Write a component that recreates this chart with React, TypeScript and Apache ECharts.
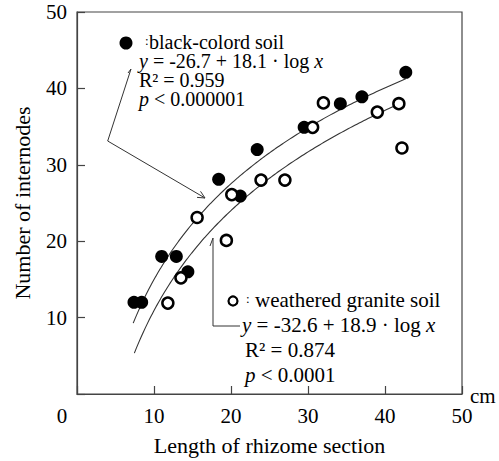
import React, { useEffect, useRef } from "react";
import * as echarts from "echarts";

// Observed data (cm, number of internodes)
const xBlack = [7.4, 8.4, 11.0, 12.9, 14.4, 18.4, 21.2, 23.4, 29.5, 34.2, 37.0, 42.7];
const yBlack = [12, 12, 18, 18, 16, 28.1, 25.9, 32, 34.9, 38, 38.9, 42.1];
const xOpen = [11.8, 13.5, 15.6, 19.4, 20.1, 23.9, 27.0, 30.6, 32.0, 39.0, 41.8, 42.2];
const yOpen = [11.9, 15.2, 23.1, 20.1, 26.1, 28.0, 28.0, 34.9, 38.1, 36.9, 38.0, 32.2];

// Regression equations printed on the chart: y = a + b * ln x
const fitBlack = { a: -26.7, b: 18.1, from: 7.3, to: 42.7 };
const fitOpen = { a: -32.6, b: 18.9, from: 7.45, to: 41.8 };

const xTicks = [0, 10, 20, 30, 40, 50];
const yTicks = [10, 20, 30, 40, 50];

const FONT = "Liberation Serif";

function curve(f: { a: number; b: number; from: number; to: number }) {
  const pts: number[][] = [];
  const n = 60;
  for (let i = 0; i <= n; i++) {
    const x = f.from + ((f.to - f.from) * i) / n;
    pts.push([x, f.a + f.b * Math.log(x)]);
  }
  return pts;
}

export default function App() {
  const ref = useRef<HTMLDivElement>(null);
  useEffect(() => {
    if (!ref.current) return;
    const chart = echarts.init(ref.current, null, { renderer: "svg" });
    const txt = (x: number, y: number, text: string, size = 21) => ({
      type: "text",
      x,
      y,
      z: 100,
      style: {
        text,
        fontFamily: FONT,
        fontSize: size,
        lineHeight: 17,
        fill: "#000",
        align: "left",
        verticalAlign: "middle",
        rich: {
          i: { fontStyle: "italic", fontFamily: FONT, fontSize: size, lineHeight: 17, fill: "#000" },
        },
      },
    });
    const arrowTip = [205, 198];
    const arrowFrom = [107.7, 141];
    const ang = Math.atan2(arrowTip[1] - arrowFrom[1], arrowTip[0] - arrowFrom[0]);
    const aL = 8;
    const a1 = [arrowTip[0] - aL * Math.cos(ang - 0.45), arrowTip[1] - aL * Math.sin(ang - 0.45)];
    const a2 = [arrowTip[0] - aL * Math.cos(ang + 0.45), arrowTip[1] - aL * Math.sin(ang + 0.45)];
    const option: any = {
      animation: false,
      backgroundColor: "#fff",
      grid: {
        left: 77,
        right: 37,
        top: 12,
        bottom: 62,
        show: true,
        borderColor: "#444",
        borderWidth: 1.2,
      },
      xAxis: {
        type: "value",
        min: 0,
        max: 50,
        interval: 10,
        name: "Length of rhizome section",
        nameLocation: "middle",
        nameGap: 40,
        nameTextStyle: { fontFamily: FONT, fontSize: 22, color: "#000" },
        axisLine: { lineStyle: { color: "#444", width: 1.2 } },
        axisTick: { inside: true, length: 8, lineStyle: { color: "#444", width: 1.2 } },
        splitLine: { show: false },
        axisLabel: {
          fontFamily: FONT,
          fontSize: 21,
          color: "#000",
          margin: 11,
          formatter: (v: number) => (v === 0 ? "{z|0}" : xTicks.includes(v) ? String(v) : ""),
          rich: { z: { fontFamily: FONT, fontSize: 21, color: "#000", padding: [0, 30, 0, 0] } },
        },
      },
      yAxis: {
        type: "value",
        min: 0,
        max: 50,
        interval: 10,
        name: "Number of internodes",
        nameLocation: "middle",
        nameGap: 44,
        nameTextStyle: { fontFamily: FONT, fontSize: 22, color: "#000" },
        axisLine: { show: true, lineStyle: { color: "#444", width: 1.2 } },
        axisTick: { show: true, inside: true, length: 8, lineStyle: { color: "#444", width: 1.2 } },
        splitLine: { show: false },
        axisLabel: {
          fontFamily: FONT,
          fontSize: 21,
          color: "#000",
          margin: 10,
          formatter: (v: number) => (yTicks.includes(v) ? String(v) : ""),
        },
      },
      series: [
        {
          type: "line",
          data: curve(fitBlack),
          showSymbol: false,
          smooth: true,
          lineStyle: { color: "#333", width: 1.1 },
          z: 1,
        },
        {
          type: "line",
          data: curve(fitOpen),
          showSymbol: false,
          smooth: true,
          lineStyle: { color: "#333", width: 1.1 },
          z: 1,
        },
        {
          type: "scatter",
          data: xBlack.map((x, i) => [x, yBlack[i]]),
          symbol: "circle",
          symbolSize: 13,
          itemStyle: { color: "#000", opacity: 1 },
          z: 3,
        },
        {
          type: "scatter",
          data: xOpen.map((x, i) => [x, yOpen[i]]),
          symbol: "circle",
          symbolSize: 11,
          itemStyle: { color: "#fff", borderColor: "#000", borderWidth: 2.5, opacity: 1 },
          z: 4,
        },
      ],
      graphic: [
        // legend 1
        { type: "circle", z: 100, shape: { cx: 126, cy: 43, r: 6.5 }, style: { fill: "#000" } },
        txt(145, 40, ":", 13),
        txt(149, 42, "black-colord soil", 20),
        txt(139, 61, "{i|y} = -26.7 + 18.1 · log {i|x}", 20),
        txt(139, 80, "R² = 0.959", 20),
        txt(139, 99, "{i|p} < 0.000001", 20),
        {
          type: "polyline",
          z: 100,
          shape: { points: [[128, 73], [131, 69], [107.7, 141], arrowTip] },
          style: { stroke: "#333", lineWidth: 1, fill: "none" },
        },
        {
          type: "polyline",
          z: 100,
          shape: { points: [a1, arrowTip, a2] },
          style: { stroke: "#333", lineWidth: 1, fill: "none" },
        },
        // legend 2
        {
          type: "circle",
          z: 100,
          shape: { cx: 233, cy: 301, r: 4.5 },
          style: { fill: "#fff", stroke: "#000", lineWidth: 2.2 },
        },
        txt(246, 298, ":", 13),
        txt(255, 300, "weathered granite soil"),
        txt(242, 325, "{i|y} = -32.6 + 18.9 · log {i|x}"),
        txt(245, 350, "R² = 0.874"),
        txt(245, 375, "{i|p} < 0.0001"),
        {
          type: "polyline",
          z: 100,
          shape: { points: [[210, 246], [213, 238], [213, 326], [240, 326]] },
          style: { stroke: "#333", lineWidth: 1, fill: "none" },
        },
        // unit
        txt(470, 396, "cm"),
      ],
    };
    chart.setOption(option);
    return () => chart.dispose();
  }, []);
  return <div ref={ref} style={{ width: 499, height: 461, position: "absolute", left: 0, top: 0 }} />;
}
